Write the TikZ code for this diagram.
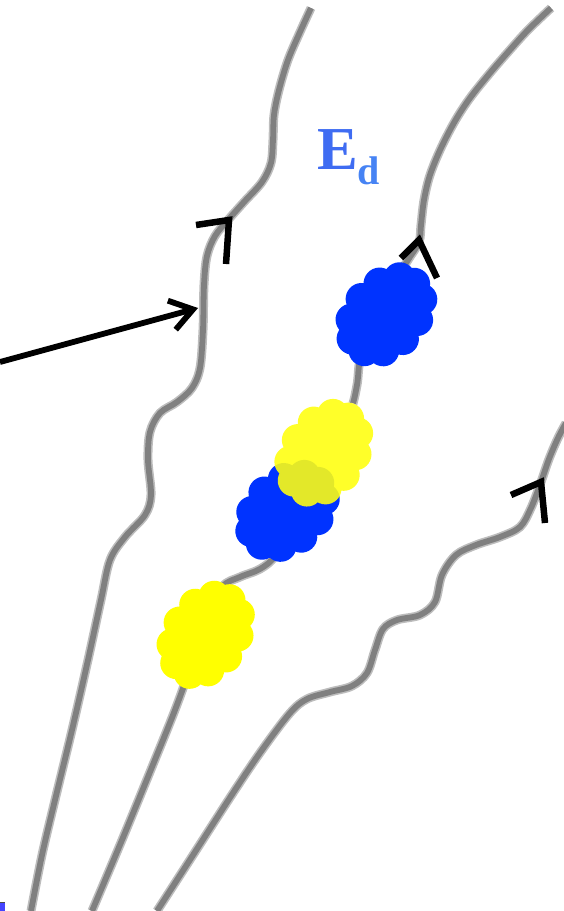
\documentclass[tikz,border=0pt]{standalone}
\usepackage{fontspec}
\setmainfont{Liberation Serif}
\usetikzlibrary{arrows.meta}

\definecolor{blobblue}{HTML}{0033FF}
\definecolor{blobyellow}{HTML}{FFFF00}
\definecolor{edblue}{HTML}{3F6CF2}
\definecolor{edsub}{HTML}{4683F4}
\definecolor{corner}{HTML}{4444FF}

\tikzset{
  % soft gray world line: light halo plus darker core
  halo/.style={line width=9pt, color=black!26, line cap=butt, line join=round},
  core/.style={line width=5.8pt, color=black!50, line cap=butt, line join=round},
  chevron/.style={line width=6.5pt, black, line cap=butt, line join=miter},
  pointer/.style={line width=5.8pt, black, -{Straight Barb[length=22pt,width=30pt]}},
  % puffy cloud made of circles around an ellipse
  pics/puff/.style={code={
    \fill[#1] (0,0) ellipse[x radius=42, y radius=29]
      \foreach \a in {0,33,...,330}{ ({42*cos(\a)},{29*sin(\a)}) circle[radius=16] };
  }}
}

\begin{document}
\begin{tikzpicture}[x=1pt,y=-1pt]
\useasboundingbox (0,0) rectangle (563,911);

% left line
\foreach \s in {halo,core}
\draw[\s] plot[smooth,tension=0.55] coordinates {
  (311,8) (300,32) (288,60) (279,90) (274,115) (273,140) (271,163) (262,182)
  (244,202) (228,220) (215,236) (207,256) (204,285) (203,330) (200,368)
  (192,388) (177,402) (160,413) (150,432) (148,460) (151,495) (145,515)
  (125,537) (110,560) (101,600) (88,660) (72,730) (55,800) (42,855) (31,911)};

% middle line
\foreach \s in {halo,core}
\draw[\s] plot[smooth,tension=0.55] coordinates {
  (551,8) (528,30) (509,51) (490,73) (470,98) (455,121) (441,148) (430,175)
  (424,200) (421,225) (419,242) (408,260) (388,292) (370,330) (360,360)
  (357,385) (350,412) (330,450) (305,490) (287,528) (275,556) (260,569)
  (240,577) (222,587) (205,620) (190,668) (175,710) (152,767) (122,840) (92,911)};

% right line
\foreach \s in {halo,core}
\draw[\s] plot[smooth,tension=0.55] coordinates {
  (157,911) (195,852) (233,793) (262,750) (290,713) (307,699) (330,692)
  (352,686) (367,673) (375,650) (383,629) (397,620) (420,615) (435,602)
  (442,575) (456,555) (476,545) (500,537) (520,527) (531,508) (541,482)
  (549,459) (558,438) (566,423)};

% direction marks on the lines
\draw[chevron] (196,225) -- (229,220) -- (226,264);
\draw[chevron] (401,258) -- (419,240) -- (437,278);
\draw[chevron] (511,495) -- (541,482) -- (545,523);

% clouds (the translucent one sits on a white base so the line stays hidden)
\pic[rotate=48] at (386,315) {puff=blobblue};
\pic[rotate=55] at (324,453) {puff=white};
\pic[rotate=42] at (287,511) {puff=blobblue};
\pic[rotate=55, fill opacity=0.89] at (324,453) {puff=blobyellow!94!white};
\pic[rotate=56] at (206,635) {puff=blobyellow};

% label
\node[anchor=base west, inner sep=0pt, text=edblue, font=\bfseries] (ed) at (317,169.5)
  {{\fontsize{61}{61}\selectfont E}\raisebox{-15pt}{\color{edsub}\fontsize{40}{40}\selectfont d}};

% pointer from the left edge
\coordinate (pstart) at (0,362);
\coordinate (ptip) at (198,308);
\draw[pointer] (pstart) -- (ptip);

% corner mark
\fill[corner] (0,902) rectangle (5,911);
\draw[black!70, line width=1pt] (0,902.5) -- (5,902.5);
\end{tikzpicture}
\end{document}
